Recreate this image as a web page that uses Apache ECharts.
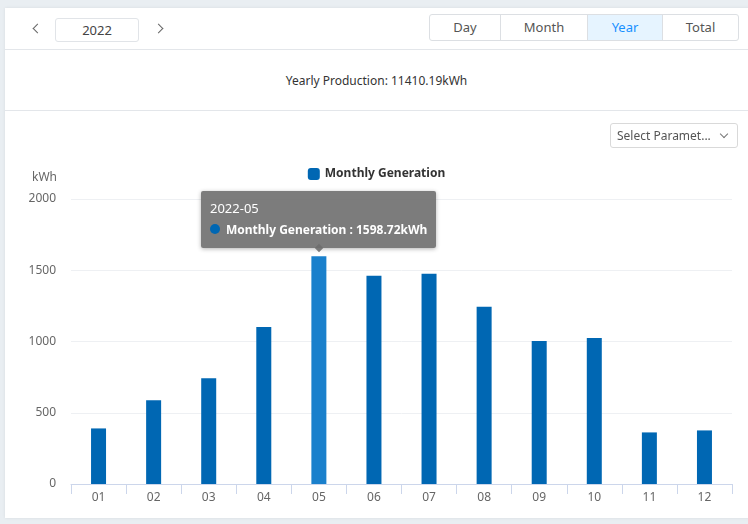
<!DOCTYPE html>
<html>
<head>
<meta charset="utf-8">
<script src="https://cdn.jsdelivr.net/npm/echarts@6/dist/echarts.min.js"></script>
<style>
  html, body { margin: 0; padding: 0; }
  body { width: 748px; height: 524px; background: #e9eef2; font-family: "Noto Sans", sans-serif; position: relative; overflow: hidden; }
  .card { position: absolute; left: 5px; top: 8px; width: 760px; height: 510px; background: #fff; box-shadow: 0 0 3px rgba(0,0,0,0.08); }
  .head { position: absolute; left: 0; top: 0; width: 100%; height: 41px; border-bottom: 1px solid #e3e6ea; }
  .chev { position: absolute; top: 17px; width: 6px; height: 6px; border-left: 1.3px solid #666; border-bottom: 1.3px solid #666; }
  .year { position: absolute; left: 50px; top: 10px; width: 82px; height: 22px; border: 1px solid #e1e4e8; border-radius: 3px; text-align: center; line-height: 22px; font-size: 13px; color: #444; }
  .seg { position: absolute; left: 424px; top: 6px; height: 25px; border: 1px solid #dcdfe3; border-radius: 3px; display: flex; }
  .seg div { height: 25px; line-height: 25px; text-align: center; font-size: 13px; color: #555; border-left: 1px solid #dcdfe3; }
  .seg div:first-child { border-left: none; }
  .seg .on { background: #e6f4ff; color: #1890ff; }
  .total { position: absolute; left: 0; top: 42px; width: 100%; height: 60px; border-bottom: 1px solid #e3e6ea; }
  .total span { position: absolute; left: 0; width: 743px; top: 22px; text-align: center; font-size: 12px; color: #333; }
  .sel { position: absolute; left: 605px; top: 115px; width: 120px; height: 23px; border: 1px solid #d9d9d9; border-radius: 3px; font-size: 12px; color: #555; line-height: 23px; padding-left: 6px; }
  .sel i { position: absolute; right: 10px; top: 7px; width: 5px; height: 5px; border-right: 1.2px solid #777; border-bottom: 1.2px solid #777; transform: rotate(45deg); }
  #bar { position: absolute; left: 0; top: 102px; width: 743px; height: 408px; }
</style>
</head>
<body>
<div class="card">
  <div class="head">
    <span class="chev" style="left:29px;transform:rotate(45deg)"></span>
    <div class="year">2022</div>
    <span class="chev" style="left:150px;transform:rotate(-135deg)"></span>
    <div class="seg">
      <div style="width:70px">Day</div>
      <div style="width:86px">Month</div>
      <div class="on" style="width:74px">Year</div>
      <div style="width:75px">Total</div>
    </div>
  </div>
  <div class="total"><span>Yearly Production: 11410.19kWh</span></div>
  <div id="bar"></div>
  <div class="sel">Select Paramet... <i></i></div>
</div>
<script>
// 月发电量数据
var months = ['01', '02', '03', '04', '05', '06', '07', '08', '09', '10', '11', '12'];
var generation = [390, 587, 742, 1102, 1598.72, 1461, 1476, 1243, 1003, 1025, 362, 376];
var yTicks = [0, 500, 1000, 1500, 2000];
var year = '2022';

function workNum () {
  // 1. 实例化对象
  const myChart = echarts.init(document.getElementById('bar'));
  // 2.指定配置
  const option = {
    animation: false,
    textStyle: { fontFamily: '"Noto Sans", sans-serif' },
    tooltip: {
      trigger: 'item',
      triggerOn: 'none',
      alwaysShowContent: true,
      position: 'top',
      backgroundColor: 'rgba(110,110,110,0.9)',
      borderColor: 'rgba(110,110,110,0.9)',
      borderWidth: 0,
      padding: [6, 9, 7, 9],
      extraCssText: 'box-shadow: 0 1px 4px rgba(0,0,0,0.3); border-radius: 2px;',
      textStyle: { color: '#fff', fontSize: 12 },
      formatter: function (p) {
        return '<div style="line-height:22px;font-size:13px">' + year + '-' + p.name + '</div>' +
          '<div style="line-height:22px;font-weight:bold;font-size:12px">' +
          '<span style="display:inline-block;width:10px;height:10px;border-radius:5px;background:#0067b3;margin-right:6px"></span>' +
          p.seriesName + ' : ' + p.value + 'kWh</div>';
      }
    },
    legend: {
      top: 53,
      itemWidth: 12,
      itemHeight: 12,
      icon: 'roundRect',
      textStyle: { color: '#333', fontSize: 12, fontWeight: 'bold' },
      data: ['Monthly Generation']
    },
    grid: {
      left: 66,
      right: 16,
      top: 89,
      bottom: 34
    },
    xAxis: {
      type: 'category',
      data: months,
      axisLine: { lineStyle: { color: '#ccd6eb' } },
      axisTick: { show: true, length: 10, lineStyle: { color: '#ccd6eb' } },
      axisLabel: { color: '#666', fontSize: 12, margin: 8 }
    },
    yAxis: {
      type: 'value',
      name: 'kWh',
      nameTextStyle: { color: '#666', fontSize: 12, align: 'right', padding: [0, 14, 0, 0] },
      min: yTicks[0],
      max: yTicks[yTicks.length - 1],
      interval: 500,
      axisLine: { show: false },
      axisTick: { show: false },
      axisLabel: { color: '#666', fontSize: 12, margin: 15, formatter: function (v) { return String(v); } },
      splitLine: { lineStyle: { color: '#eef0f3' } }
    },
    series: [{
      name: 'Monthly Generation',
      type: 'bar',
      barWidth: 15,
      itemStyle: { color: '#0067b3' },
      emphasis: { itemStyle: { color: '#1a80cc' } },
      data: generation
    }]
  };
  // 3. 把配置给实例对象
  myChart.setOption(option);
  myChart.dispatchAction({ type: 'highlight', seriesIndex: 0, dataIndex: 4 });
  myChart.dispatchAction({ type: 'showTip', seriesIndex: 0, dataIndex: 4 });
  // 4. 让图表跟随屏幕自动的去适应
  window.addEventListener("resize", function () {
    myChart.resize();
  });
}
workNum();
</script>
</body>
</html>
